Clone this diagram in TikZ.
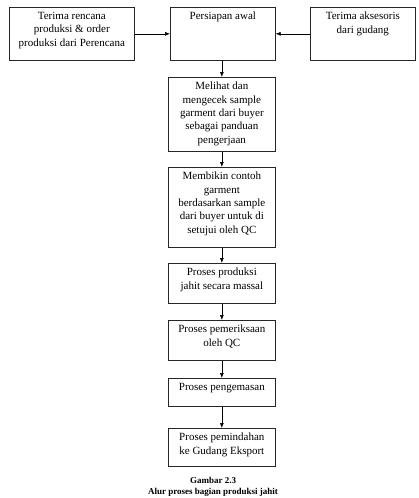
\documentclass[tikz,border=0pt]{standalone}
\usepackage{fontspec}
\setmainfont{Liberation Serif}
\usetikzlibrary{arrows.meta}
\newcommand\boxtxt[3]{\parbox[c][#2][t]{#1}{\centering\vspace*{5pt}#3\par}}
\begin{document}
\begin{tikzpicture}[x=1pt,y=-1pt,
  stepbox/.style={draw=black!85,line width=0.7pt,inner sep=0pt,anchor=north west,font=\fontsize{11pt}{13.3pt}\selectfont},
  conn/.style={draw=black,line width=0.6pt,-{Latex[length=5pt,width=4pt]}}]
\useasboundingbox (0,0) rectangle (419,498);
\node[stepbox] (a) at (9,7) {\boxtxt{125pt}{53pt}{Terima rencana\\produksi \& order\\produksi dari Perencana}};
\node[stepbox] (b) at (170,7) {\boxtxt{105pt}{53pt}{Persiapan awal}};
\node[stepbox] (c) at (310,7) {\boxtxt{105pt}{53pt}{Terima aksesoris\\dari gudang}};
\node[stepbox] (d) at (168,77) {\boxtxt{107pt}{74pt}{Melihat dan\\mengecek sample\\garment dari buyer\\sebagai panduan\\pengerjaan}};
\node[stepbox] (e) at (168,167) {\boxtxt{107pt}{80pt}{Membikin contoh\\garment\\berdasarkan sample\\dari buyer untuk di\\setujui oleh QC}};
\node[stepbox] (f) at (168,263) {\boxtxt{107pt}{40pt}{Proses produksi\\jahit secara massal}};
\node[stepbox] (g) at (168,320) {\boxtxt{107pt}{40pt}{Proses pemeriksaan\\oleh QC}};
\node[stepbox] (h) at (168,378) {\boxtxt{107pt}{28pt}{Proses pengemasan}};
\node[stepbox] (i) at (168,428) {\boxtxt{107pt}{38pt}{Proses pemindahan\\ke Gudang Eksport}};
\node[font=\bfseries\fontsize{9pt}{10.5pt}\selectfont, align=center] (cap) at (213,487) {Gambar 2.3\\Alur proses bagian produksi jahit};
\draw[conn] (a.east) -- (b.west);
\draw[conn] (c.west) -- (b.east);
\draw[conn] (b.south -| d.north) -- (d.north);
\draw[conn] (d.south) -- (e.north);
\draw[conn] (e.south) -- (f.north);
\draw[conn] (f.south) -- (g.north);
\draw[conn] (g.south) -- (h.north);
\draw[conn] (h.south) -- (i.north);
\end{tikzpicture}
\end{document}
